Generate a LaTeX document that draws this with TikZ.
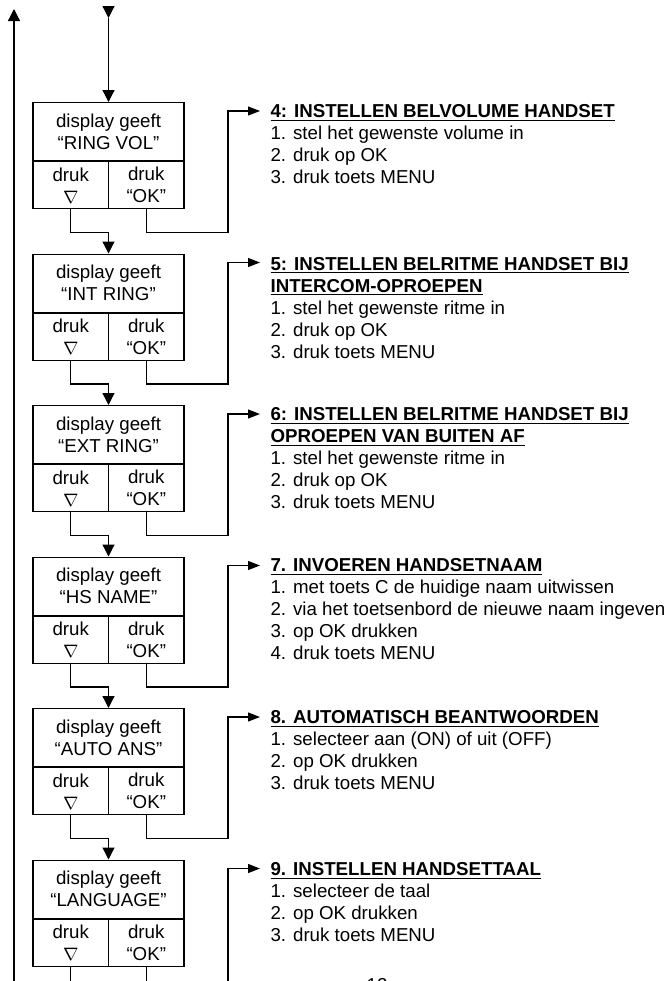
\documentclass[tikz,border=0pt]{standalone}
\usepackage{fontspec}
\setmainfont{Liberation Sans}
\usetikzlibrary{positioning,arrows.meta}
\newcommand{\kop}[1]{\textbf{\underline{\smash{#1}}}}

\begin{document}
\begin{tikzpicture}[
  x=0.5pt, y=-0.5pt, line width=0.6pt, >={Triangle[length=6pt,width=6pt]},
  font=\fontsize{9.35}{11}\selectfont,
  naar/.style={-{Triangle[length=6pt,width=4.5pt]}},
  disp/.style={draw, anchor=north, minimum width=75.5pt, minimum height=29pt, align=center, inner sep=0pt},
  cel/.style={draw, minimum width=37.75pt, minimum height=23.5pt, align=center, inner sep=0pt},
  tekst/.style={anchor=north west, align=left, inner xsep=5pt, inner ysep=0pt},
]
  \useasboundingbox (0,0) rectangle (665,981);

  \node[disp] (disp1) at (108.5,102) {display geeft\\“RING VOL”};
  \node[cel, below right=0pt and 0pt of disp1.south west] (nab1) {druk\\$\nabla$};
  \node[cel, below left=0pt and 0pt of disp1.south east] (ok1) {druk\\“OK”};
  \node[disp] (disp2) at (108.5,253.5) {display geeft\\“INT RING”};
  \node[cel, below right=0pt and 0pt of disp2.south west] (nab2) {druk\\$\nabla$};
  \node[cel, below left=0pt and 0pt of disp2.south east] (ok2) {druk\\“OK”};
  \node[disp] (disp3) at (108.5,405) {display geeft\\“EXT RING”};
  \node[cel, below right=0pt and 0pt of disp3.south west] (nab3) {druk\\$\nabla$};
  \node[cel, below left=0pt and 0pt of disp3.south east] (ok3) {druk\\“OK”};
  \node[disp] (disp4) at (108.5,556.5) {display geeft\\“HS NAME”};
  \node[cel, below right=0pt and 0pt of disp4.south west] (nab4) {druk\\$\nabla$};
  \node[cel, below left=0pt and 0pt of disp4.south east] (ok4) {druk\\“OK”};
  \node[disp] (disp5) at (108.5,708) {display geeft\\“AUTO ANS”};
  \node[cel, below right=0pt and 0pt of disp5.south west] (nab5) {druk\\$\nabla$};
  \node[cel, below left=0pt and 0pt of disp5.south east] (ok5) {druk\\“OK”};
  \node[disp] (disp6) at (108.5,859.5) {display geeft\\“LANGUAGE”};
  \node[cel, below right=0pt and 0pt of disp6.south west] (nab6) {druk\\$\nabla$};
  \node[cel, below left=0pt and 0pt of disp6.south east] (ok6) {druk\\“OK”};

  \node[tekst] (tekst1) at (260,101.6) {\strut\kop{4: INSTELLEN BELVOLUME HANDSET}\\1. stel het gewenste volume in\\2. druk op OK\\3. druk toets MENU};
  \node[tekst] (tekst2) at (260,254) {\strut\kop{5: INSTELLEN BELRITME HANDSET BIJ}\\\kop{INTERCOM-OPROEPEN}\\1. stel het gewenste ritme in\\2. druk op OK\\3. druk toets MENU};
  \node[tekst] (tekst3) at (260,404.6) {\strut\kop{6: INSTELLEN BELRITME HANDSET BIJ}\\\kop{OPROEPEN VAN BUITEN AF}\\1. stel het gewenste ritme in\\2. druk op OK\\3. druk toets MENU};
  \node[tekst] (tekst4) at (260,555.6) {\strut\kop{7. INVOEREN HANDSETNAAM}\\1. met toets C de huidige naam uitwissen\\2. via het toetsenbord de nieuwe naam ingeven\\3. op OK drukken\\4. druk toets MENU};
  \node[tekst] (tekst5) at (260,707.6) {\strut\kop{8. AUTOMATISCH BEANTWOORDEN}\\1. selecteer aan (ON) of uit (OFF)\\2. op OK drukken\\3. druk toets MENU};
  \node[tekst] (tekst6) at (260,859.1) {\strut\kop{9. INSTELLEN HANDSETTAAL}\\1. selecteer de taal\\2. op OK drukken\\3. druk toets MENU};
  \node[anchor=base west, inner sep=0pt] (blz) at (366,991) {12};

  \coordinate (in0) at (108.5,6);
  \coordinate (in1) at (108.5,18);
  \coordinate (terugonder) at (14,990);
  \coordinate (terugboven) at (14,9);
  \coordinate (k1) at (228,111);
  \coordinate (k2) at (228,262.5);
  \coordinate (k3) at (228,414);
  \coordinate (k4) at (228,565.5);
  \coordinate (k5) at (228,717);
  \coordinate (k6) at (228,868.5);
  \coordinate (k6onder) at (228,990);

  \draw[->] (terugonder) -- (terugboven);
  \draw[->] (in0) -- (in1);
  \draw[->] (in1) -- (disp1.north);
  \draw[->] (nab1.south) -- ++(0,23) -| (disp2.north);
  \draw[->] (nab2.south) -- ++(0,23) -| (disp3.north);
  \draw[->] (nab3.south) -- ++(0,23) -| (disp4.north);
  \draw[->] (nab4.south) -- ++(0,23) -| (disp5.north);
  \draw[->] (nab5.south) -- ++(0,23) -| (disp6.north);
  \draw (nab6.south) -- ++(0,40);
  \draw (ok6.south) -- ++(0,40);
  \draw[naar] (ok1.south) -- ++(0,23) -| (k1) -- (k1 -| tekst1.west);
  \draw[naar] (ok2.south) -- ++(0,23) -| (k2) -- (k2 -| tekst2.west);
  \draw[naar] (ok3.south) -- ++(0,23) -| (k3) -- (k3 -| tekst3.west);
  \draw[naar] (ok4.south) -- ++(0,23) -| (k4) -- (k4 -| tekst4.west);
  \draw[naar] (ok5.south) -- ++(0,23) -| (k5) -- (k5 -| tekst5.west);
  \draw[naar] (k6onder) -- (k6) -- (k6 -| tekst6.west);
\end{tikzpicture}
\end{document}
